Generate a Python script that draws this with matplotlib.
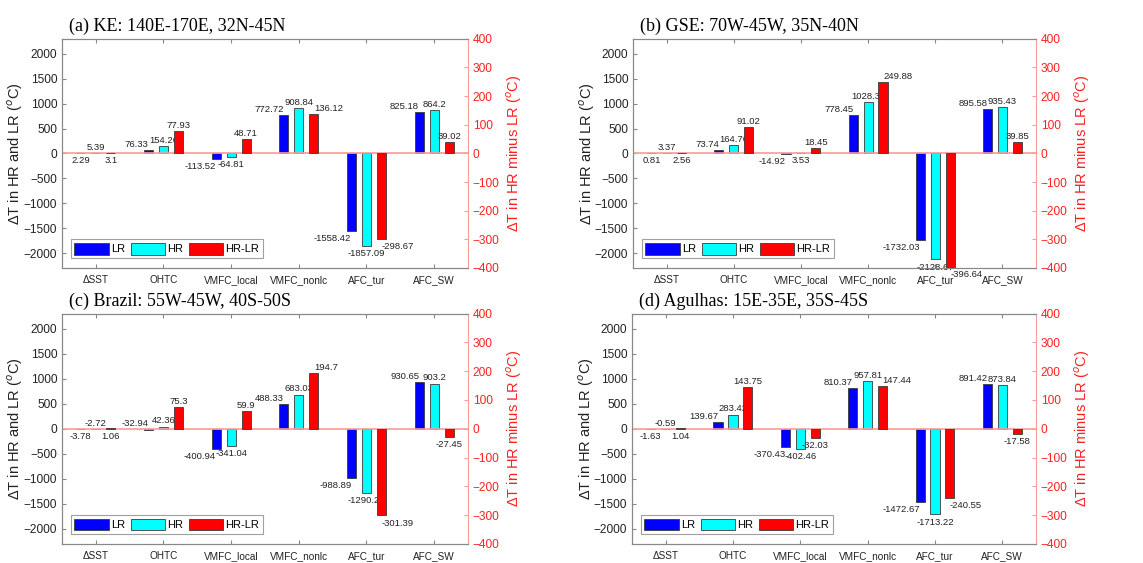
import matplotlib
matplotlib.use('Agg')
import matplotlib.pyplot as plt
import numpy as np

categories = ['\u0394SST', 'OHTC', 'VMFC_local', 'VMFC_nonlc', 'AFC_tur', 'AFC_SW']

titles = ['(a) KE: 140E-170E, 32N-45N',
          '(b) GSE: 70W-45W, 35N-40N',
          '(c) Brazil: 55W-45W, 40S-50S',
          '(d) Agulhas: 15E-35E, 35S-45S']

# LR, HR and HR-LR values for each region
ke_lr = [2.29, 76.33, -113.52, 772.72, -1558.42, 825.18]
ke_hr = [5.39, 154.26, -64.81, 908.84, -1857.09, 864.2]
ke_diff = [3.1, 77.93, 48.71, 136.12, -298.67, 39.02]

gse_lr = [0.81, 73.74, -14.92, 778.45, -1732.03, 895.58]
gse_hr = [3.37, 164.76, 3.53, 1028.33, -2128.67, 935.43]
gse_diff = [2.56, 91.02, 18.45, 249.88, -396.64, 39.85]

bra_lr = [-3.78, -32.94, -400.94, 488.33, -988.89, 930.65]
bra_hr = [-2.72, 42.36, -341.04, 683.03, -1290.28, 903.2]
bra_diff = [1.06, 75.3, 59.9, 194.7, -301.39, -27.45]

agu_lr = [-1.63, 139.67, -370.43, 810.37, -1472.67, 891.42]
agu_hr = [-0.59, 283.42, -402.46, 957.81, -1713.22, 873.84]
agu_diff = [1.04, 143.75, -32.03, 147.44, -240.55, -17.58]

panels = [(ke_lr, ke_hr, ke_diff), (gse_lr, gse_hr, gse_diff),
          (bra_lr, bra_hr, bra_diff), (agu_lr, agu_hr, agu_diff)]

# label tweaks where the original put the number on the other side
label_side = {(0, 0): 'below', (0, 1): 'above', (0, 2): 'below'}
panel_side = {(1, 2, 1): 'below', (2, 1, 0): 'above'}

sans = 'Liberation Sans'
serif = 'Liberation Serif'
pink = '#ff9a9a'
edge = '#3a3a3a'
txt = '#222222'

fig = plt.figure(figsize=(11.43, 5.63), dpi=100)
boxes = [(0.0542, 0.524, 0.3552, 0.407), (0.5538, 0.524, 0.3526, 0.407),
         (0.0542, 0.034, 0.3552, 0.409), (0.5529, 0.034, 0.3535, 0.409)]

x = np.arange(1, 7)
w = 0.135
off = 0.222

for p, (lr, hr, diff) in enumerate(panels):
    ax = fig.add_axes(boxes[p])
    ax2 = ax.twinx()

    b1 = ax.bar(x - off, lr, w, color='#0000ff', edgecolor=edge, linewidth=0.6)
    b2 = ax.bar(x, hr, w, color='#00ffff', edgecolor=edge, linewidth=0.6)
    b3 = ax2.bar(x + off, diff, w, color='#ff0000', edgecolor=edge, linewidth=0.6)
    ax2.axhline(0, color=pink, lw=1.2, zorder=0.5)

    ax.set_xlim(0.5, 6.5)
    ax.set_ylim(-2300, 2300)
    ax2.set_ylim(-400, 400)
    ax.set_yticks(np.arange(-2000, 2001, 500))
    ax2.set_yticks(np.arange(-400, 401, 100))
    ax.set_xticks(x)
    ax.set_xticklabels(categories, fontsize=7.2, family=sans, color=txt)
    ax.tick_params(axis='y', labelsize=8.6, direction='in', length=3, color='#888888',
                   labelcolor=txt)
    ax.tick_params(axis='x', direction='in', length=3, color='#888888', top=True, pad=5)
    for t in ax.get_yticklabels():
        t.set_family(sans)
    ax2.tick_params(axis='y', labelsize=8.6, direction='in', length=3, color=pink,
                    labelcolor='#ff2020')
    for t in ax2.get_yticklabels():
        t.set_family(sans)

    for s in ['left', 'top', 'bottom']:
        ax.spines[s].set_color('#888888')
        ax2.spines[s].set_color('#888888')
    ax2.spines['right'].set_color(pink)
    ax.spines['right'].set_visible(False)

    ax.set_ylabel('\u0394T in HR and LR ($^o$C)', fontsize=10.5, family=sans, color=txt)
    ax.yaxis.set_label_coords(-0.09, 0.5)
    ax2.set_ylabel('\u0394T in HR minus LR ($^o$C)', fontsize=10.5, family=sans,
                   color='#ff2020')
    ax2.yaxis.set_label_coords(1.09, 0.5)
    ax.text(0.018, 1.015, titles[p], transform=ax.transAxes, fontsize=13,
            family=serif, ha='left', va='bottom')

    for s, (vals, target) in enumerate([(lr, ax), (hr, ax), (diff, ax2)]):
        for g, v in enumerate(vals):
            side = 'above' if v >= 0 else 'below'
            side = label_side.get((g, s), side)
            side = panel_side.get((p, g, s), side)
            xpos = x[g] + (s - 1) * off
            if g == 0:
                ha = 'center'
            elif s == 0:
                ha = 'right'
            elif s == 2 and g in (3, 4):
                ha = 'left'
            else:
                ha = 'center'
            base = v if (side == 'above') == (v >= 0) else 0
            if side == 'above':
                target.annotate(f'{v:g}', (xpos, base), xytext=(0, 0.8),
                                textcoords='offset points', ha=ha, va='bottom',
                                fontsize=6.8, family=sans, color=txt)
            else:
                target.annotate(f'{v:g}', (xpos, base), xytext=(0, -2.2),
                                textcoords='offset points', ha=ha, va='top',
                                fontsize=6.8, family=sans, color=txt)

    leg = ax.legend([b1, b2, b3], ['LR', 'HR', 'HR-LR'], ncol=3, loc='lower left',
                    bbox_to_anchor=(0.022, 0.044), borderaxespad=0, frameon=True,
                    fancybox=False, edgecolor='#888888', handlelength=3.1,
                    handleheight=1.25, handletextpad=0.2, columnspacing=0.5,
                    borderpad=0.3, prop={'family': sans, 'size': 8.0})
    leg.get_frame().set_linewidth(0.8)
    leg.set_zorder(10)

fig.savefig('out.png', dpi=100)
